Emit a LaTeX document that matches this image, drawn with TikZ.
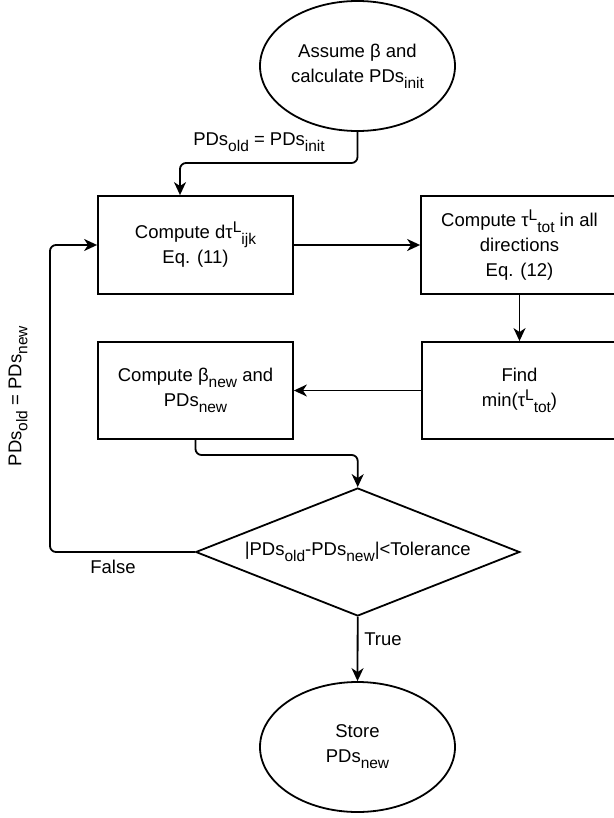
\documentclass[tikz,border=0pt]{standalone}
\usepackage{fontspec}
\setmainfont{Liberation Sans}
\usetikzlibrary{shapes.geometric,arrows.meta}
\newcommand\dn[1]{\raisebox{-6pt}{\fontsize{15.5}{15.5}\selectfont #1}}
\newcommand\up[1]{\raisebox{6pt}{\fontsize{15.5}{15.5}\selectfont #1}}
\begin{document}
\begin{tikzpicture}[x=1pt,y=-1pt,
  every node/.style={font=\fontsize{18.5}{25}\selectfont},
  box/.style={draw, line width=1.8pt, rectangle, minimum width=195pt, minimum height=98pt, align=center, inner sep=0pt},
  term/.style={draw, line width=1.8pt, ellipse, minimum width=195pt, minimum height=130pt, align=center, inner sep=0pt},
  dec/.style={draw, line width=1.8pt, diamond, aspect=2.5, minimum width=324pt, minimum height=128pt, inner sep=0pt, align=center},
  conn/.style={line width=1.8pt, -{Stealth[length=13pt,width=12pt,inset=4pt]}, rounded corners=6pt},
  lbl/.style={inner sep=0pt}]
\fill[white] (0,0) rectangle (613,818);
\useasboundingbox (0,0) rectangle (613,818);

\node[term] (e1) at (357.5,66) {Assume β and\\calculate PDs\dn{init}};
\node[box] (b1) at (195.5,245) {Compute dτ\up{L}\dn{ijk}\\Eq. (11)};
\node[box, minimum width=197pt] (b2) at (519.5,245) {Compute τ\up{L}\dn{tot} in all\\directions\\Eq. (12)};
\node[box, minimum height=97pt] (b3) at (519.5,390.5) {Find\\min(τ\up{L}\dn{tot})};
\node[box, minimum height=97pt] (b4) at (195.5,390.5) {Compute β\dn{new} and\\PDs\dn{new}};
\node[dec] (d) at (357.7,552) {|PDs\dn{old}-PDs\dn{new}|<Tolerance};
\node[term] (e2) at (357.5,747) {Store\\PDs\dn{new}};

\node[lbl] (l1) at (259,142) {PDs\dn{old} = PDs\dn{init}};
\node[lbl] (l2) at (113,567) {False};
\node[lbl] (l3) at (383,639) {True};
\node[lbl, rotate=90] (l4) at (18,396) {PDs\dn{old} = PDs\dn{new}};

\coordinate (k1) at (180,163);
\coordinate (k2) at (357.7,455);
\coordinate (k3) at (50,552);

\draw[conn] (e1.south) |- (k1) -- (k1 |- b1.north);
\draw[conn] (b1.east) -- (b2.west);
\draw[conn] (b2.south) -- (b2.south |- b3.north);
\draw[conn] (b3.west) -- (b4.east);
\draw[conn] (b4.south) |- (k2) -- (d.north);
\draw[conn] (d.west) -- (k3) |- (b1.west);
\draw[conn] (d.south) -- (e2.north);
\end{tikzpicture}
\end{document}
